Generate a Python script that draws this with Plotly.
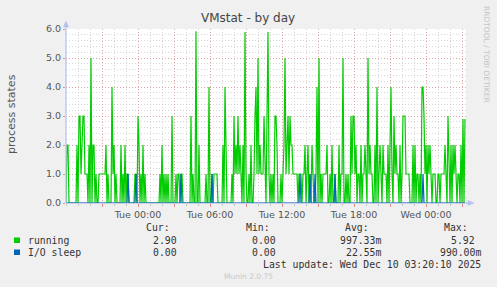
import pandas as pd
import plotly.graph_objects as go

# ---------------- data ----------------
start_time = "2025-12-08 18:00"
end_time = "2025-12-10 03:20"
n_points = 400

running = [
    0, 2, 2, 0, 0, 0, 0, 0, 0, 0, 0, 2, 0, 3, 3, 1, 2, 3, 3, 1,
    1, 1, 0, 2, 0, 5, 0, 2, 2, 0, 1, 0, 0, 1, 1, 1, 1, 1, 1, 1,
    2, 0, 1, 0, 0, 0, 4, 1, 2, 0, 1, 0, 0, 0, 0, 2, 0, 1, 0, 2,
    0, 1, 1, 0, 0, 0, 0, 0, 0, 1, 1, 0, 3, 2, 0, 1, 0, 2, 0, 1,
    0, 0, 0, 0, 0, 0, 0, 0, 0, 0, 0, 0, 0, 0, 1, 0, 2, 0, 1, 0,
    1, 0, 1, 0, 0, 0, 3, 0, 0, 0, 1, 0, 1, 1, 0, 1, 1, 0, 0, 0,
    0, 0, 0, 0, 0, 3, 0, 1, 0, 0, 5.92, 0, 0, 2, 0, 0, 0, 0, 0, 0,
    1, 0, 0, 4, 0, 0, 1, 0, 1, 1, 1, 1, 0, 0, 0, 0, 0, 2, 0, 4,
    1, 0, 0, 0, 0, 0, 1, 0, 3, 1, 2, 1, 3, 1, 2, 1, 0, 2, 0, 5.9,
    1, 0, 0, 1, 0, 2, 0, 0, 1, 3, 4, 1, 5, 1, 2, 1, 1, 1, 3, 1,
    0, 3, 5.9, 1, 0, 1, 0, 1, 0, 3, 3, 2, 0, 0, 0, 1, 0, 1, 2, 5,
    1, 2, 3, 1, 3, 2, 2, 1, 1, 1, 1, 1, 0, 1, 1, 1, 0, 1, 1, 2,
    0, 1, 2, 0, 1, 0, 2, 1, 0, 0, 1, 4, 0, 5, 0, 1, 0, 1, 1, 1,
    1, 2, 0, 0, 1, 0, 2, 0, 0, 1, 0, 0, 0, 2, 0, 1, 1, 5, 0, 0,
    1, 0, 1, 0, 0, 3, 1, 3, 3, 1, 2, 0, 1, 1, 0, 2, 0, 1, 1, 2,
    1, 0, 5, 1, 2, 1, 1, 0, 0, 2, 0, 4, 0, 1, 2, 1, 0, 2, 1, 1,
    1, 0, 2, 0, 3, 4, 1, 0, 3, 1, 2, 1, 1, 0, 2, 0, 1, 3, 3, 3,
    1, 1, 1, 1, 0, 0, 0, 2, 0, 2, 0, 1, 1, 0, 1, 0, 4, 4, 3, 1,
    2, 0, 2, 1, 2, 1, 0, 1, 1, 1, 0, 0, 1, 1, 0, 1, 1, 1, 1, 2,
    1, 0, 3, 1, 0, 2, 0, 2, 1, 2, 1, 0, 1, 1, 0, 2, 0, 2.9, 0, 2.9,
]

io_sleep = [
    0, 0, 0, 0, 0, 0, 0, 0, 0, 0, 0, 0, 0, 0, 0, 0, 0, 0, 0, 0,
    0, 0, 0, 0, 0, 0, 0, 0, 0, 0, 0, 0, 0, 0, 0, 0, 0, 0, 0, 0,
    0, 0, 0, 0, 0, 0, 0, 0, 0, 0, 0, 0, 0, 0, 0, 0, 0, 0, 0, 0,
    0, 0, 1, 0, 0, 0, 0, 0, 0, 0, 1, 0, 0, 0, 0, 0, 0, 0, 0, 0,
    0, 0, 0, 0, 0, 0, 0, 0, 0, 0, 0, 0, 0, 0, 0, 0, 0, 0, 0, 0,
    0, 0, 0, 0, 0, 0, 0, 0, 0, 0, 0, 0, 0, 0, 0, 1, 0, 0, 0, 0,
    0, 0, 0, 0, 0, 0, 0, 0, 0, 0, 0, 0, 0, 0, 0, 0, 0, 0, 0, 0,
    0, 0, 0, 0, 0, 0, 1, 0, 0, 0, 0, 0, 0, 0, 0, 0, 0, 0, 0, 0,
    0, 0, 0, 0, 0, 0, 0, 0, 0, 0, 0, 0, 0, 0, 0, 0, 0, 0, 0, 0,
    0, 0, 0, 0, 0, 0, 0, 0, 0, 0, 0, 0, 0, 0, 0, 0, 0, 0, 0, 0,
    0, 0, 0, 0, 0, 0, 0, 0, 0, 0, 0, 0, 0, 0, 0, 0, 0, 0, 0, 0,
    0, 0, 0, 0, 0, 0, 0, 0, 0, 0, 0, 0, 0, 0, 1, 0, 0, 0, 0, 0,
    0, 0, 0, 0, 0.99, 0, 0, 0, 0, 1, 0, 0, 0, 0, 0, 0, 0, 0, 0, 0,
    0, 0, 0, 0, 0, 0, 0, 0, 0, 1, 0, 0, 0, 0, 0, 0, 0, 0, 0, 0,
    0, 0, 0, 0, 0, 0, 0, 0, 0, 0, 0, 0, 0, 0, 0, 0, 0, 0, 0, 0,
    0, 0, 0, 0, 0, 0, 0, 0, 0, 0, 0, 0, 0, 0, 0, 0, 0, 0, 0, 0,
    0, 0, 0, 0, 0, 0, 0, 0, 0, 0, 0, 0, 0, 0, 0, 0, 0, 0, 0, 0,
    0, 0, 0, 0, 0, 0, 0, 0, 0, 0, 0, 0, 0, 0, 0, 0, 0, 1, 0, 0,
    0, 0, 0, 0, 0, 0, 0, 0, 0, 0, 0, 0, 0, 0, 0, 0, 0, 0, 0, 0,
    0, 0, 0, 0, 0, 0, 0, 0, 0, 0, 0, 0, 0, 0, 0, 0, 0, 0, 0, 0,
]

x_tick_times = ["2025-12-08 21:00", "2025-12-09 00:00", "2025-12-09 03:00",
                "2025-12-09 06:00", "2025-12-09 09:00", "2025-12-09 12:00",
                "2025-12-09 15:00", "2025-12-09 18:00", "2025-12-09 21:00",
                "2025-12-10 00:00", "2025-12-10 03:00"]
x_tick_labels = ["", "Tue 00:00", "", "Tue 06:00", "", "Tue 12:00",
                 "", "Tue 18:00", "", "Wed 00:00", ""]
y_tick_values = [0, 1, 2, 3, 4, 5, 6]
y_tick_labels = ["0.0", "1.0", "2.0", "3.0", "4.0", "5.0", "6.0"]

series_names = ["running", "I/O sleep"]
series_colors = ["#00cc00", "#0066b3"]
stat_headers = ["Cur:", "Min:", "Avg:", "Max:"]
stats_running = ["2.90", "0.00", "997.33m", "5.92"]
stats_io = ["0.00", "0.00", "22.55m", "990.00m"]

title_text = "VMstat - by day"
y_title = "process states"
last_update = "Last update: Wed Dec 10 03:20:10 2025"
footer = "Munin 2.0.75"
side_text = "RRDTOOL / TOBI OETIKER"

# ---------------- layout geometry ----------------
W, H = 497, 287
L, R, T, B = 66, 466, 29, 203  # plot area in pixels


def px(x):
    return (x - L) / (R - L)


def py(y):
    return (B - y) / (B - T)


times = pd.date_range(start_time, periods=n_points, freq="5min")

fig = go.Figure()
fig.add_trace(go.Scatter(x=times, y=running, mode="lines",
                         line=dict(color=series_colors[0], width=1.2),
                         name=series_names[0], hoverinfo="skip"))
fig.add_trace(go.Scatter(x=times, y=io_sleep, mode="lines",
                         line=dict(color=series_colors[1], width=1.2),
                         name=series_names[1], hoverinfo="skip"))

major_grid = "rgba(230,130,130,0.55)"
minor_grid = "rgba(175,175,175,0.5)"
tick_font = dict(family="DejaVu Sans", size=9.5, color="#555555")

fig.update_layout(
    width=W, height=H,
    margin=dict(l=L, r=W - R, t=T, b=H - B, pad=0),
    paper_bgcolor="#f0f0f0",
    plot_bgcolor="#ffffff",
    showlegend=False,
    xaxis=dict(
        type="date",
        range=[start_time, end_time],
        tickmode="array",
        tickvals=x_tick_times,
        ticktext=x_tick_labels,
        tickfont=tick_font,
        showgrid=True, gridcolor=major_grid, griddash="1px,2px", gridwidth=1,
        ticks="outside", ticklen=3, tickcolor="rgba(230,120,120,0.8)",
        showline=False, zeroline=False,
        minor=dict(dtick=3600000, tick0=start_time, showgrid=True,
                   gridcolor=minor_grid, griddash="1px,2px", gridwidth=1,
                   ticks="outside", ticklen=2, tickcolor="#c4c4c4"),
        fixedrange=True,
    ),
    yaxis=dict(
        range=[0, 6],
        tickmode="array",
        tickvals=y_tick_values,
        ticktext=y_tick_labels,
        tickfont=tick_font,
        showgrid=True, gridcolor=major_grid, griddash="1px,2px", gridwidth=1,
        ticks="outside", ticklen=2, tickcolor="rgba(230,120,120,0.8)",
        showline=False, zeroline=False,
        minor=dict(dtick=0.2, tick0=0, showgrid=True,
                   gridcolor=minor_grid, griddash="1px,2px", gridwidth=1),
        fixedrange=True,
    ),
)

axis_col = "#b4c0ee"
shapes = [
    dict(type="line", xref="paper", yref="paper", x0=0, x1=0,
         y0=0, y1=py(26), line=dict(color=axis_col, width=1.2)),
    dict(type="path", xref="paper", yref="paper",
         path=f"M {px(63.5)} {py(27)} L {px(68.5)} {py(27)} L {px(66)} {py(21)} Z",
         fillcolor=axis_col, line=dict(color=axis_col, width=0.5)),
    dict(type="line", xref="paper", yref="paper", x0=0, x1=px(469),
         y0=0, y1=0, line=dict(color="rgba(90,130,210,0.55)", width=1.2)),
    dict(type="path", xref="paper", yref="paper",
         path=f"M {px(468)} {py(200.5)} L {px(468)} {py(205.5)} L {px(474)} {py(203)} Z",
         fillcolor=axis_col, line=dict(color=axis_col, width=0.5)),
    dict(type="rect", xref="paper", yref="paper",
         x0=px(14), x1=px(20), y0=py(237.5), y1=py(243),
         fillcolor=series_colors[0], line=dict(width=0)),
    dict(type="rect", xref="paper", yref="paper",
         x0=px(14), x1=px(20), y0=py(249.5), y1=py(255),
         fillcolor=series_colors[1], line=dict(width=0)),
]
fig.update_layout(shapes=shapes)

mono = dict(family="DejaVu Sans Mono", size=9.8, color="#333333")
ann = []


def add_text(text, x, y, xanchor="left", font=None, angle=0):
    ann.append(dict(text=text, x=px(x), y=py(y), xref="paper", yref="paper",
                    xanchor=xanchor, yanchor="middle", showarrow=False,
                    font=font or mono, textangle=angle))


add_text(title_text, 248, 18, "center",
         dict(family="DejaVu Sans", size=12, color="#444444"))
add_text(y_title, 11, 114, "center",
         dict(family="DejaVu Sans", size=11, color="#555555"), angle=-90)
add_text(side_text, 487, 54, "center",
         dict(family="DejaVu Sans", size=7.5, color="#c4c4c4"), angle=90)

header_right = [172, 272, 371, 470]
value_right_run = [179, 278, 383, 477]
value_right_io = [179, 278, 383, 483]
for h, xr in zip(stat_headers, header_right):
    add_text(h, xr, 227.5, "right")
add_text(series_names[0], 26, 240, "left")
add_text(series_names[1], 26, 252, "left")
for v, xr in zip(stats_running, value_right_run):
    add_text(v, xr, 240, "right")
for v, xr in zip(stats_io, value_right_io):
    add_text(v, xr, 252, "right")
add_text(last_update, 483, 264, "right")
add_text(footer, 248, 276, "center",
         dict(family="DejaVu Sans", size=7.5, color="#c8c8c8"))

fig.update_layout(annotations=ann)
fig.write_html("out.html")
